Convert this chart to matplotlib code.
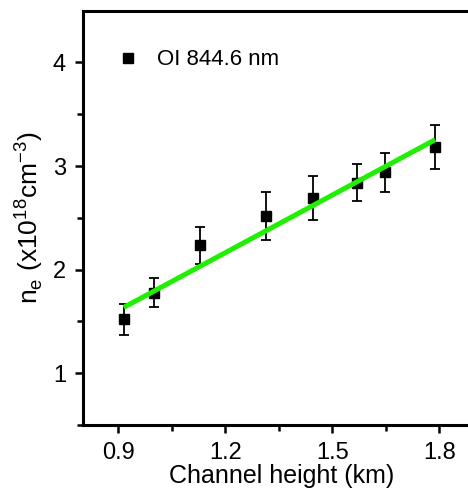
import numpy as np
import matplotlib.pyplot as plt

plt.rcParams['font.family'] = ['Liberation Sans', 'DejaVu Sans']

# data
height_km = [0.915, 0.999, 1.128, 1.314, 1.446, 1.568, 1.648, 1.788]
ne = [1.52, 1.775, 2.234, 2.515, 2.692, 2.84, 2.939, 3.186]
ne_err = [0.15, 0.14, 0.18, 0.23, 0.21, 0.18, 0.19, 0.21]

# linear fit shown in green
fit_slope = 1.855
fit_intercept = -0.062

fig = plt.figure(figsize=(4.68, 4.91), dpi=100)
ax = fig.add_axes([0.1767, 0.1344, 0.85, 0.8438])

ax.errorbar(height_km, ne, yerr=ne_err, fmt='none', ecolor='black',
            elinewidth=1.3, capsize=3.8, capthick=1.3, zorder=2)
ax.plot(height_km, ne, 's', color='black', markersize=7, label='OI 844.6 nm', zorder=3)

xfit = np.array([min(height_km), max(height_km)])
ax.plot(xfit, fit_slope * xfit + fit_intercept, color='#1fef00', linewidth=3.6,
        solid_capstyle='butt', zorder=4)

ax.set_xlim(0.8, 1.915)
ax.set_ylim(0.5, 4.5)
ax.set_xticks([0.9, 1.2, 1.5, 1.8])
ax.set_xticks([1.05, 1.35, 1.65], minor=True)
ax.set_yticks([1, 2, 3, 4])
ax.set_yticks([0.5, 1.5, 2.5, 3.5], minor=True)
ax.set_xticklabels(['0.9', '1.2', '1.5', '1.8'])

ax.spines['right'].set_visible(False)
for s in ax.spines.values():
    s.set_linewidth(2.2)
ax.tick_params(which='major', direction='out', length=6, width=1.8, labelsize=17, pad=6)
ax.tick_params(which='minor', direction='out', length=4, width=1.8)

ax.set_xlabel('Channel height (km)', fontsize=18, labelpad=0)
ax.set_ylabel(r'n$_\mathregular{e}$ (x10$^\mathregular{18}$cm$^\mathregular{-3}$)', fontsize=19, labelpad=6)

ax.legend(loc='upper left', bbox_to_anchor=(0.035, 0.955), frameon=False, numpoints=1,
          handlelength=1.0, handletextpad=0.8, fontsize=16)

fig.savefig('out.png', dpi=100)
